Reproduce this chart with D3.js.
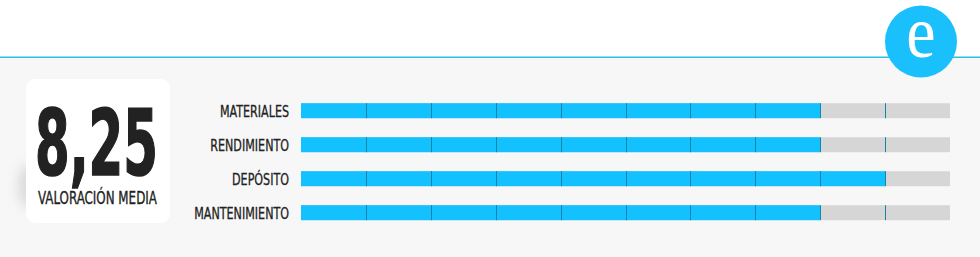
<!DOCTYPE html>
<html>
<head>
<meta charset="utf-8">
<script src="https://cdn.jsdelivr.net/npm/d3@7"></script>
<style>
  html, body { margin: 0; padding: 0; background: #fff; }
  svg { display: block; }
  .cond { font-family: "Liberation Sans Narrow", "DejaVu Sans Condensed", "Liberation Sans", sans-serif; font-stretch: condensed; }
</style>
</head>
<body>
<script>
var width = 980,
    height = 257;

var categories = ['MATERIALES', 'RENDIMIENTO', 'DEPÓSITO', 'MANTENIMIENTO'];
var scores = [8, 8, 9, 8];
var maxScore = 10;
var tickValues = [1, 2, 3, 4, 5, 6, 7, 8, 9];
var averageLabel = '8,25';
var averageCaption = 'VALORACIÓN MEDIA';

var svg = d3.select('body')
            .append('svg')
              .attr('xmlns', 'http://www.w3.org/2000/svg')
              .attr('width', width)
              .attr('height', height);

// squeeze a text horizontally so it is `w` px wide, anchored at (x, y)
function squeezeTo(sel, x, y, w) {
  var natural = sel.node().getComputedTextLength();
  sel.attr('transform', 'translate(' + x + ',' + y + ') scale(' + (w / natural) + ',1)');
}

var defs = svg.append('defs');
defs.append('filter').attr('id', 'blur')
    .attr('x', '-100%').attr('y', '-100%').attr('width', '300%').attr('height', '300%')
  .append('feGaussianBlur').attr('stdDeviation', 6);

// header + grey panel
svg.append('rect').attr('x', 0).attr('y', 57).attr('width', width).attr('height', height - 57)
   .attr('fill', '#f7f7f7');
svg.append('rect').attr('x', 0).attr('y', 56.5).attr('width', width).attr('height', 1.5)
   .attr('fill', '#2fbdec');

// logo badge
svg.append('circle').attr('cx', 921).attr('cy', 41.5).attr('r', 36)
   .attr('fill', '#1ac0fb');
var logo = svg.append('text')
   .attr('text-anchor', 'middle')
   .attr('font-family', '"Liberation Serif", "DejaVu Serif", serif')
   .attr('font-size', 60)
   .attr('fill', '#fff')
   .text('e');
logo.attr('transform', 'translate(921,57) scale(1.1,1.25)');

// score card (soft shadow on the left, then the white box)
svg.append('ellipse').attr('cx', 28).attr('cy', 186).attr('rx', 10).attr('ry', 22)
   .attr('fill', '#c8c8c8').attr('opacity', 0.6).attr('filter', 'url(#blur)');
svg.append('rect').attr('x', 26).attr('y', 79).attr('width', 144).attr('height', 144)
   .attr('rx', 9).attr('fill', '#fff');

var big = svg.append('text').attr('class', 'cond')
   .attr('font-size', 90).attr('font-weight', 'bold')
   .attr('fill', '#222').attr('stroke', '#222').attr('stroke-width', 1.6)
   .text(averageLabel);
squeezeTo(big, 35, 175, 123);

var caption = svg.append('text').attr('class', 'cond')
   .attr('font-size', 18)
   .attr('fill', '#222').attr('stroke', '#222').attr('stroke-width', 0.35)
   .text(averageCaption);
squeezeTo(caption, 38, 204, 119);

// bars
var x = d3.scaleLinear().domain([0, maxScore]).range([301, 950]);
var y = d3.scalePoint().domain(categories).range([110.7, 212.7]);
var barH = 15;

var rows = svg.append('g').selectAll('g')
    .data(categories)
  .enter().append('g')
    .attr('transform', function(d) { return 'translate(0,' + y(d) + ')'; });

rows.append('rect')
    .attr('x', x(0)).attr('y', -barH / 2)
    .attr('width', x(maxScore) - x(0)).attr('height', barH)
    .attr('fill', '#d6d6d6');

rows.append('rect')
    .attr('x', x(0)).attr('y', -barH / 2)
    .attr('width', function(d, i) { return x(scores[i]) - x(0); })
    .attr('height', barH)
    .attr('fill', '#13c1fe');

rows.selectAll('rect.tick')
    .data(tickValues)
  .enter().append('rect')
    .attr('class', 'tick')
    .attr('x', function(t) { return Math.round(x(t)); })
    .attr('y', -barH / 2)
    .attr('width', 1).attr('height', barH)
    .attr('fill', '#1683ad');

// category labels, all squeezed by the same factor
var labels = rows.append('text').attr('class', 'cond')
    .attr('text-anchor', 'end')
    .attr('font-size', 16.5)
    .attr('fill', '#222').attr('stroke', '#222').attr('stroke-width', 0.3)
    .text(function(d) { return d; });

var k = 69 / labels.node().getComputedTextLength();
labels.attr('transform', 'translate(289,6.3) scale(' + k + ',1)');
</script>
</body>
</html>
